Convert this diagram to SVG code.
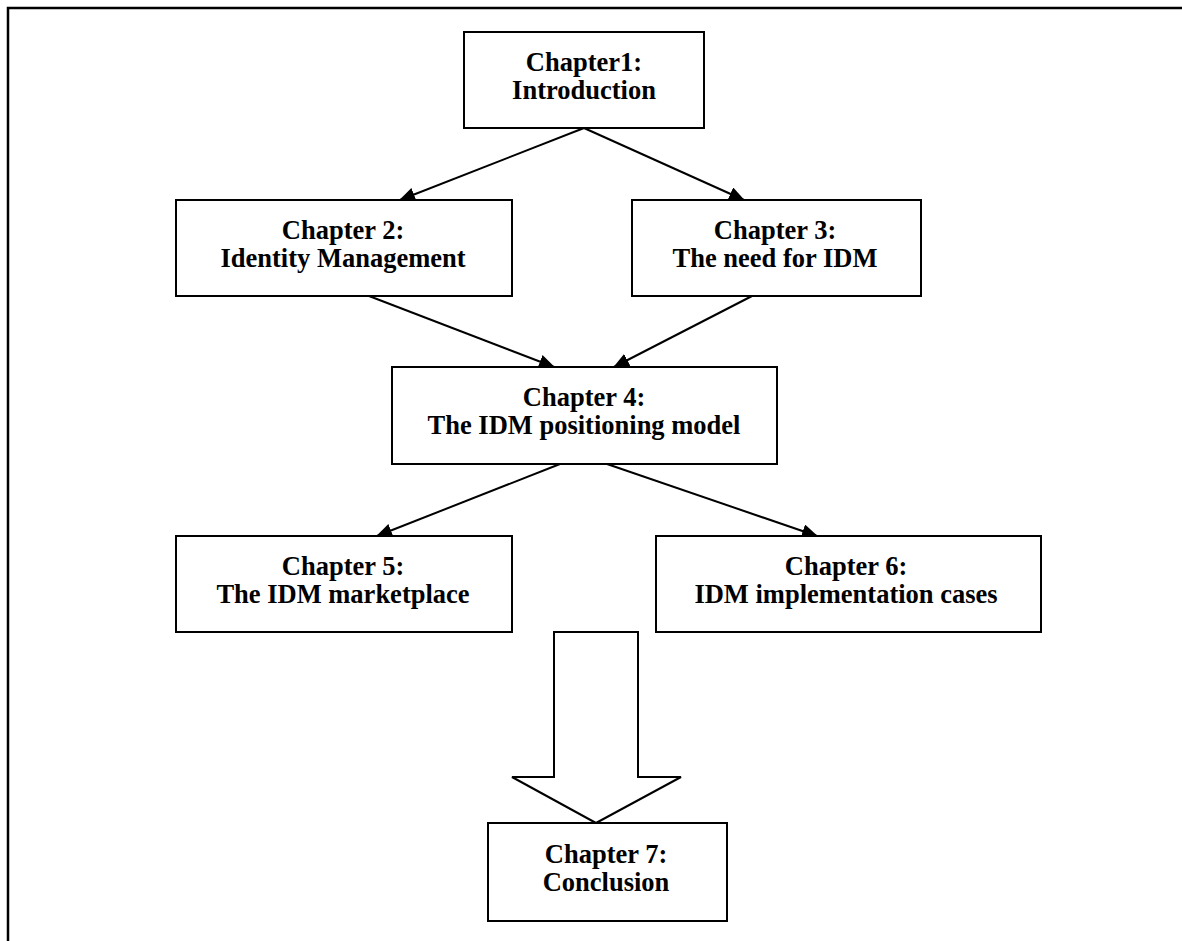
<svg xmlns="http://www.w3.org/2000/svg" width="1182" height="941" viewBox="0 0 1182 941">
  <style>
    .box { fill: #ffffff; stroke: #000000; stroke-width: 2; }
    .label { font-family: "Liberation Serif", "Times New Roman", serif; font-weight: bold; font-size: 26.5px; fill: #000000; text-anchor: middle; }
    .edge { stroke: #000000; stroke-width: 2; fill: none; marker-end: url(#head); }
    .frame { stroke: #000000; stroke-width: 2.5; fill: none; }
  </style>
  <defs>
    <marker id="head" markerUnits="userSpaceOnUse" viewBox="0 0 16 14" refX="15" refY="7" markerWidth="16" markerHeight="14" orient="auto">
      <path d="M0,0 L16,7 L0,14 Z" fill="#000000"/>
    </marker>
  </defs>

  <rect width="1182" height="941" fill="#ffffff"/>

  <!-- page frame: top and left rules -->
  <path class="frame" d="M8,941 L8,8 L1182,8"/>

  <g id="connectors">
    <line class="edge" x1="584" y1="128" x2="400" y2="200"/>
    <line class="edge" x1="584" y1="128" x2="744" y2="200"/>
    <line class="edge" x1="369" y1="296" x2="554" y2="367"/>
    <line class="edge" x1="752" y1="296" x2="614" y2="367"/>
    <line class="edge" x1="560" y1="464" x2="377" y2="536"/>
    <line class="edge" x1="607" y1="464" x2="817" y2="536"/>
    <!-- hollow block arrow into the conclusion -->
    <path id="block-arrow" d="M554,632 L638,632 L638,777 L681,777 L596,823 L512,777 L554,777 Z" fill="#ffffff" stroke="#000000" stroke-width="2" stroke-linejoin="miter"/>
  </g>

  <g id="ch1">
    <rect class="box" x="464" y="32" width="240" height="96"/>
    <text class="label" x="584" y="71">Chapter1:</text>
    <text class="label" x="584" y="99">Introduction</text>
  </g>

  <g id="ch2">
    <rect class="box" x="176" y="200" width="336" height="96"/>
    <text class="label" x="343" y="239">Chapter 2:</text>
    <text class="label" x="343" y="267">Identity Management</text>
  </g>

  <g id="ch3">
    <rect class="box" x="632" y="200" width="289" height="96"/>
    <text class="label" x="775" y="239">Chapter 3:</text>
    <text class="label" x="775" y="267">The need for IDM</text>
  </g>

  <g id="ch4">
    <rect class="box" x="392" y="367" width="385" height="97"/>
    <text class="label" x="584" y="406">Chapter 4:</text>
    <text class="label" x="584" y="434">The IDM positioning model</text>
  </g>

  <g id="ch5">
    <rect class="box" x="176" y="536" width="336" height="96"/>
    <text class="label" x="343" y="575">Chapter 5:</text>
    <text class="label" x="343" y="603">The IDM marketplace</text>
  </g>

  <g id="ch6">
    <rect class="box" x="656" y="536" width="385" height="96"/>
    <text class="label" x="846" y="575">Chapter 6:</text>
    <text class="label" x="846" y="603">IDM implementation cases</text>
  </g>

  <g id="ch7">
    <rect class="box" x="488" y="823" width="239" height="98"/>
    <text class="label" x="606" y="863">Chapter 7:</text>
    <text class="label" x="606" y="891">Conclusion</text>
  </g>
</svg>
